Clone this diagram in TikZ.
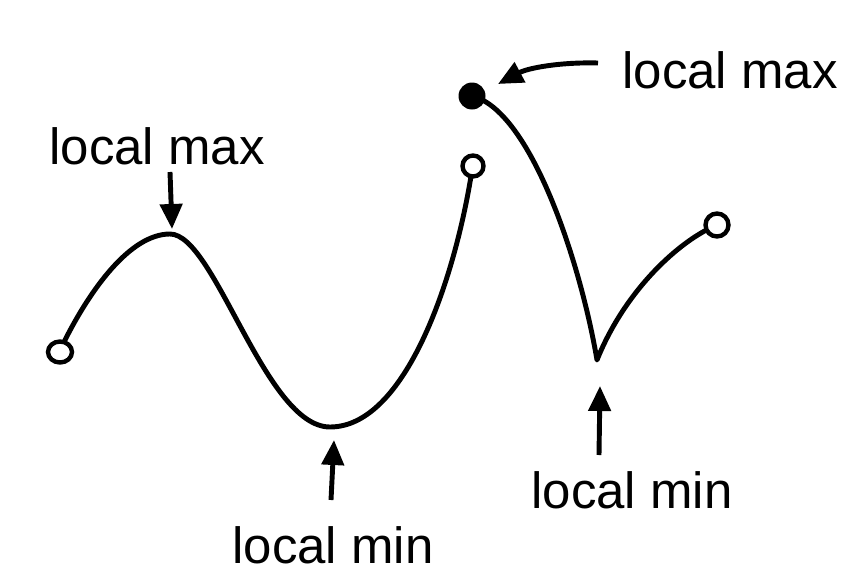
\documentclass[tikz,border=0pt]{standalone}
\usepackage{fontspec}
\setmainfont{Liberation Sans}
\usetikzlibrary{arrows.meta,shapes.geometric}
\begin{document}
\begin{tikzpicture}[x=0.2mm,y=-0.2mm,
  curve/.style={line width=2.8pt, line cap=round, line join=round},
  opencirc/.style={circle, draw, line width=2.5pt, fill=white, inner sep=0pt, minimum size=4.2mm},
  filledcirc/.style={circle, fill=black, inner sep=0pt, minimum size=5.4mm},
  arr/.style={line width=2.8pt, -{Triangle[length=5mm,width=4.4mm]}},
  lbl/.style={font=\fontsize{29}{32}\selectfont, inner sep=0pt}]
\useasboundingbox (0,0) rectangle (860,578);
% key points
\coordinate (maxA) at (170,234);
\coordinate (minA) at (330,427);
\coordinate (cusp) at (597,360);
% curves
\draw[curve] (64,342) .. controls (90,290) and (130,234) .. (maxA)
  .. controls (215,234) and (265,427) .. (minA)
  .. controls (405,427) and (455,280) .. (472,170);
\draw[curve] (472,96) .. controls (530,110) and (580,260) .. (cusp)
  .. controls (625,290) and (680,240) .. (717,225);
% endpoint circles
\node[opencirc, ellipse, minimum width=4.8mm, minimum height=4.2mm] (c1) at (60,352) {};
\node[opencirc] (c2) at (473,166) {};
\node[filledcirc] (c3) at (472,96) {};
\node[opencirc, minimum size=4.6mm] (c4) at (717,225) {};
% labels
\node[lbl] (lmax1) at (157,146) {local max};
\node[lbl] (lmax2) at (730,70) {local max};
\node[lbl] (lmin1) at (333,545) {local min};
\node[lbl] (lmin2) at (632,490) {local min};
% arrow ends
\coordinate (t1) at (172,229);
\coordinate (t2) at (498,84);
\coordinate (t3) at (334,440);
\coordinate (t4) at (600,386);
\coordinate (s1) at (170,172);
\coordinate (s2) at (598,63);
\coordinate (s3) at (331,500);
\coordinate (s4) at (599,455);
\draw[arr] (s1) -- (t1);
\draw[arr] (s2) .. controls (560,62) and (528,68) .. (t2);
\draw[arr] (s3) -- (t3);
\draw[arr] (s4) -- (t4);
\end{tikzpicture}
\end{document}
